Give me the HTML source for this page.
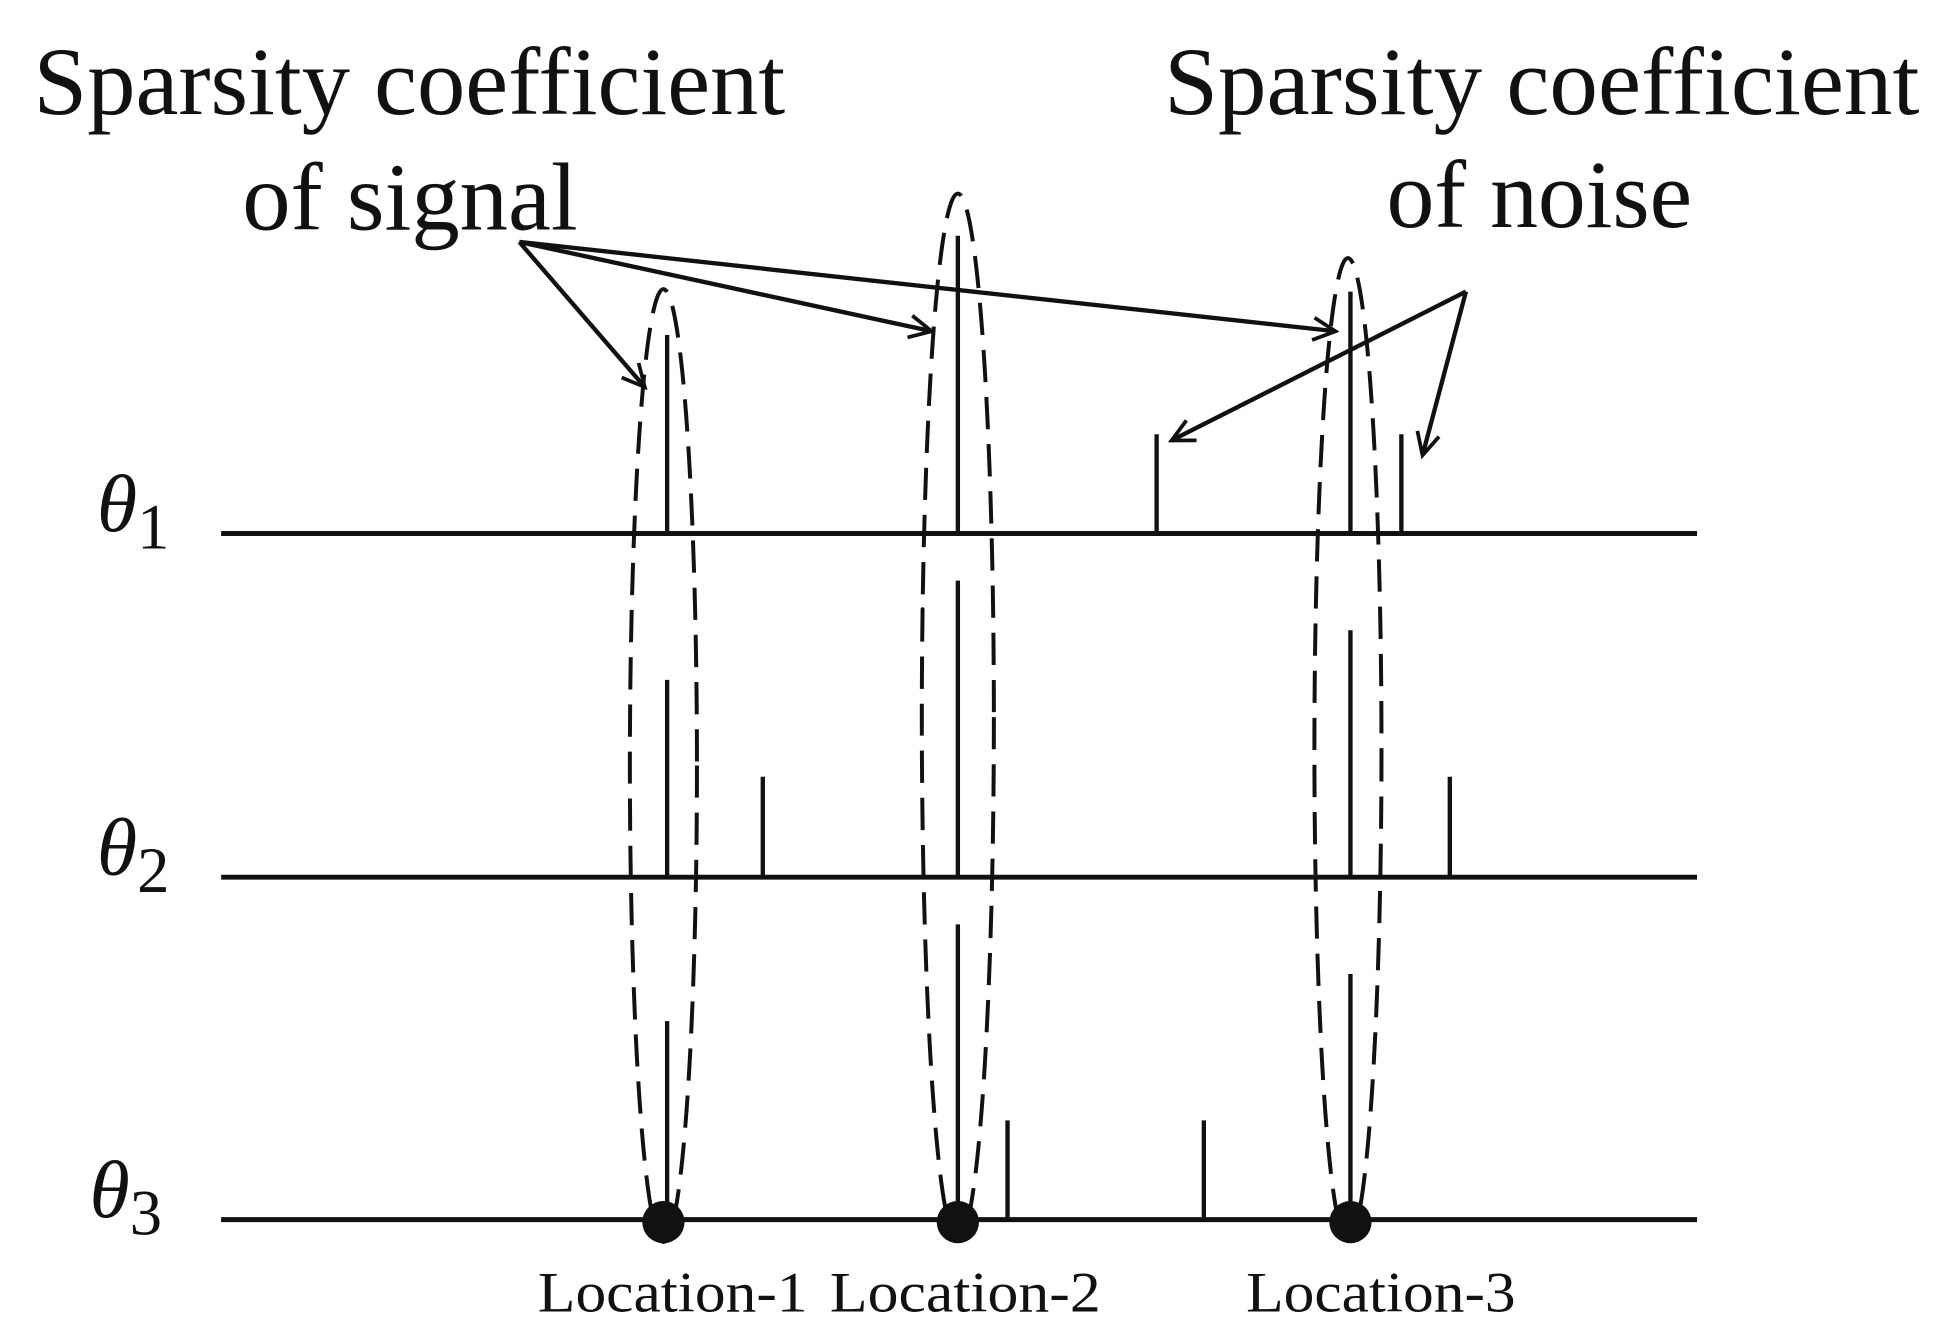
<!DOCTYPE html>
<html><head><style>html,body{margin:0;padding:0;background:#fff;}svg{display:block}</style></head>
<body>
<svg width="1948" height="1340" viewBox="0 0 1568 1080" preserveAspectRatio="none" xmlns="http://www.w3.org/2000/svg" font-family="Liberation Serif, serif">
<defs>
<marker id="a" markerWidth="22" markerHeight="22" refX="19" refY="11" orient="auto" markerUnits="userSpaceOnUse" viewBox="0 0 22 22"><path d="M1,2 L19,11 L1,20" fill="none" stroke="#111" stroke-width="3"/></marker>
</defs>
<g fill="#111">
<text x="27" y="92" font-size="78" textLength="605" lengthAdjust="spacingAndGlyphs">Sparsity coefficient</text>
<text x="195" y="185" font-size="78" textLength="270" lengthAdjust="spacingAndGlyphs">of signal</text>
<text x="937" y="92" font-size="78" textLength="608" lengthAdjust="spacingAndGlyphs">Sparsity coefficient</text>
<text x="1116" y="183" font-size="78" textLength="246" lengthAdjust="spacingAndGlyphs">of noise</text>
<text x="78" y="428" font-size="66" font-style="italic">θ<tspan font-style="normal" font-size="52" dy="14">1</tspan></text>
<text x="78" y="705" font-size="66" font-style="italic">θ<tspan font-style="normal" font-size="52" dy="14">2</tspan></text>
<text x="72" y="981" font-size="66" font-style="italic">θ<tspan font-style="normal" font-size="52" dy="14">3</tspan></text>
<text x="433" y="1057" font-size="46" textLength="217" lengthAdjust="spacingAndGlyphs">Location-1</text>
<text x="668" y="1057" font-size="46" textLength="218" lengthAdjust="spacingAndGlyphs">Location-2</text>
<text x="1003" y="1057" font-size="46" textLength="217" lengthAdjust="spacingAndGlyphs">Location-3</text>
</g>
<g stroke="#111" stroke-width="4">
<line x1="178" y1="430" x2="1366" y2="430"/>
<line x1="178" y1="707" x2="1366" y2="707"/>
<line x1="178" y1="983" x2="1366" y2="983"/>
</g>
<g stroke="#111" stroke-width="3.5">
<line x1="537" y1="270" x2="537" y2="430"/><line x1="537" y1="548" x2="537" y2="707"/><line x1="537" y1="823" x2="537" y2="983"/>
<line x1="614" y1="626" x2="614" y2="707"/>
<line x1="771" y1="190" x2="771" y2="430"/><line x1="771" y1="468" x2="771" y2="707"/><line x1="771" y1="745" x2="771" y2="983"/>
<line x1="811" y1="903" x2="811" y2="983"/><line x1="969" y1="903" x2="969" y2="983"/>
<line x1="1087" y1="235" x2="1087" y2="430"/><line x1="1087" y1="508" x2="1087" y2="707"/><line x1="1087" y1="785" x2="1087" y2="983"/>
<line x1="931" y1="350" x2="931" y2="430"/><line x1="1128" y1="350" x2="1128" y2="430"/><line x1="1167" y1="626" x2="1167" y2="707"/>
</g>
<g fill="none" stroke="#111" stroke-width="3.2" stroke-dasharray="26,12">
<ellipse cx="534" cy="617" rx="27" ry="384"/>
<ellipse cx="771" cy="578" rx="29" ry="422"/>
<ellipse cx="1085" cy="604" rx="27" ry="396"/>
</g>
<g fill="#111">
<circle cx="534" cy="985" r="17"/><circle cx="771" cy="985" r="17"/><circle cx="1087" cy="985" r="17"/>
</g>
<g stroke="#111" stroke-width="3.5" fill="none" marker-end="url(#a)">
<line x1="418" y1="195" x2="519" y2="312"/>
<line x1="418" y1="195" x2="750" y2="267"/>
<line x1="418" y1="195" x2="1075" y2="267"/>
<line x1="1180" y1="235" x2="943" y2="355"/>
<line x1="1180" y1="235" x2="1145" y2="367"/>
</g>
</svg>
</body></html>
